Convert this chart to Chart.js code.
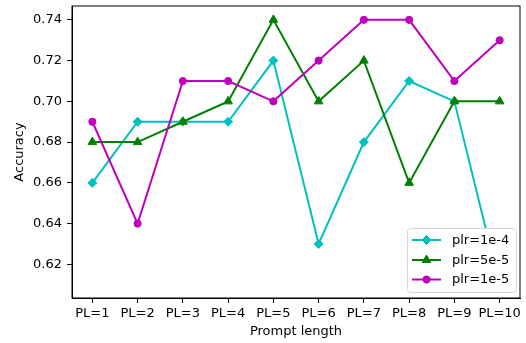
<!DOCTYPE html>
<html>
<head>
<meta charset="utf-8">
<script src="https://cdn.jsdelivr.net/npm/chart.js@4"></script>
<style>
    html, body { margin: 0; padding: 0; background: #fff; }
    #wrap { width: 526px; height: 343px; }
</style>
</head>
<body>
<div id="wrap"><canvas id="acc" width="526" height="343"></canvas></div>
<script>
const promptLabels = ["PL=1", "PL=2", "PL=3", "PL=4", "PL=5", "PL=6", "PL=7", "PL=8", "PL=9", "PL=10"];
const plr1e4 = [0.66, 0.69, 0.69, 0.69, 0.72, 0.63, 0.68, 0.71, 0.70, 0.61];
const plr5e5 = [0.68, 0.68, 0.69, 0.70, 0.74, 0.70, 0.72, 0.66, 0.70, 0.70];
const plr1e5 = [0.69, 0.64, 0.71, 0.71, 0.70, 0.72, 0.74, 0.74, 0.71, 0.73];
const yTicks = [0.62, 0.64, 0.66, 0.68, 0.70, 0.72, 0.74];

const FONT = { family: "'DejaVu Sans', sans-serif", size: 13 };

function toPoints(values) {
    return values.map((v, i) => ({ x: i + 1, y: v }));
}

function series(label, values, color, pointStyle, radius, order) {
    return {
        label: label,
        data: toPoints(values),
        borderColor: color,
        backgroundColor: color,
        borderWidth: 2,
        pointStyle: pointStyle,
        pointRadius: radius,
        pointBorderWidth: 1,
        pointBackgroundColor: color,
        pointBorderColor: color,
        tension: 0,
        order: order,
    };
}

// frame round the plot area like matplotlib axes
const frameBox = {
    id: "frameBox",
    afterDraw(chart) {
        const { ctx, chartArea } = chart;
        ctx.save();
        ctx.strokeStyle = "#000";
        ctx.lineWidth = 1;
        ctx.strokeRect(chartArea.left, chartArea.top, chartArea.right - chartArea.left, chartArea.bottom - chartArea.top);
        ctx.restore();
    },
};

// legend box in the lower right corner, drawn over the lines
const cornerLegend = {
    id: "cornerLegend",
    afterDraw(chart) {
        const { ctx } = chart;
        const x = 407.5, y = 228.5, w = 109, h = 64, r = 3;
        ctx.save();
        ctx.beginPath();
        ctx.moveTo(x + r, y);
        ctx.arcTo(x + w, y, x + w, y + h, r);
        ctx.arcTo(x + w, y + h, x, y + h, r);
        ctx.arcTo(x, y + h, x, y, r);
        ctx.arcTo(x, y, x + w, y, r);
        ctx.closePath();
        ctx.fillStyle = "#fff";
        ctx.fill();
        ctx.strokeStyle = "#d6d6d6";
        ctx.lineWidth = 1;
        ctx.stroke();

        const rows = [240, 260, 279.5];
        chart.data.datasets.forEach((ds, i) => {
            const cy = rows[i];
            ctx.strokeStyle = ds.borderColor;
            ctx.fillStyle = ds.borderColor;
            ctx.lineWidth = 2;
            ctx.beginPath();
            ctx.moveTo(412, cy);
            ctx.lineTo(441, cy);
            ctx.stroke();
            ctx.lineWidth = 1;
            Chart.helpers.drawPoint(ctx, {
                pointStyle: ds.pointStyle,
                radius: ds.pointRadius,
                rotation: 0,
                borderWidth: 1,
            }, 426.5, cy);
            ctx.fillStyle = "#000";
            ctx.font = "13px 'DejaVu Sans', sans-serif";
            ctx.textBaseline = "middle";
            ctx.textAlign = "left";
            ctx.fillText(ds.label, 452, cy + 0.5);
        });
        ctx.restore();
    },
};

new Chart(document.getElementById("acc"), {
    type: "line",
    data: {
        datasets: [
            series("plr=1e-4", plr1e4, "#00bfbf", "rectRot", 4.5, 3),
            series("plr=5e-5", plr5e5, "#008000", "triangle", 5, 2),
            series("plr=1e-5", plr1e5, "#bf00bf", "circle", 3.6, 1),
        ],
    },
    options: {
        responsive: false,
        devicePixelRatio: 1,
        animation: false,
        layout: { padding: { top: 5, right: 4, left: 0, bottom: 0 } },
        plugins: {
            legend: { display: false },
            tooltip: { enabled: false },
        },
        scales: {
            x: {
                type: "linear",
                min: 0.55,
                max: 10.45,
                afterBuildTicks: (scale) => {
                    scale.ticks = promptLabels.map((_, i) => ({ value: i + 1 }));
                },
                afterFit: (scale) => {
                    scale.height = 45;
                    scale.paddingLeft = 0;
                    scale.paddingRight = 0;
                },
                afterUpdate: (scale) => {
                    scale.paddingRight = 0;
                },
                ticks: {
                    color: "#000",
                    font: FONT,
                    padding: 3,
                    maxRotation: 0,
                    autoSkip: false,
                    callback: (v) => promptLabels[v - 1],
                },
                grid: { drawOnChartArea: false, drawTicks: true, tickLength: 5, tickColor: "#000", tickWidth: 1 },
                border: { display: true, color: "#000", width: 1 },
                title: { display: true, text: "Prompt length", color: "#000", font: FONT, padding: { top: 0, bottom: 4 } },
            },
            y: {
                min: 0.6035,
                max: 0.7468,
                afterBuildTicks: (scale) => {
                    scale.ticks = yTicks.map((v) => ({ value: v }));
                },
                afterFit: (scale) => {
                    scale.width = 72;
                    scale.paddingTop = 0;
                    scale.paddingBottom = 0;
                },
                ticks: {
                    color: "#000",
                    font: FONT,
                    padding: 5,
                    callback: (v) => v.toFixed(2),
                },
                grid: { drawOnChartArea: false, drawTicks: true, tickLength: 5, tickColor: "#000", tickWidth: 1 },
                border: { display: true, color: "#000", width: 1 },
                title: { display: true, text: "Accuracy", color: "#000", font: FONT, padding: { top: 12, bottom: 0 } },
            },
        },
    },
    plugins: [frameBox, cornerLegend],
});
</script>
</body>
</html>
